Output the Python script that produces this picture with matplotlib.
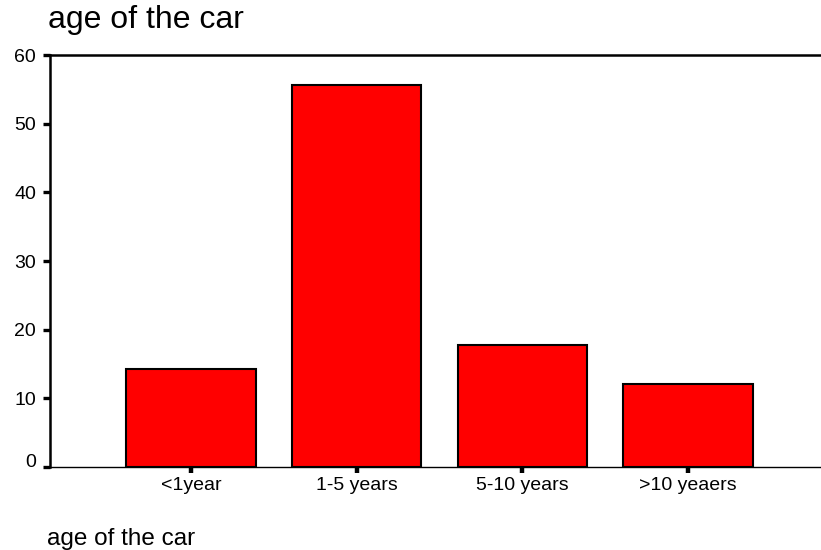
import matplotlib
matplotlib.use('Agg')
import matplotlib.pyplot as plt
import matplotlib.transforms as mtransforms

# percent of cars in each age group
categories = ['<1year', '1-5 years', '5-10 years', '>10 yeaers']
percent = [14.3, 55.6, 17.8, 12.1]
y_ticks = [0, 10, 20, 30, 40, 50, 60]

plt.rcParams['font.family'] = ['Liberation Sans', 'DejaVu Sans']

fig = plt.figure(figsize=(8.21, 5.5), dpi=100)
ax = fig.add_axes([0.0609, 0.1509, 0.9391, 0.7491])

x = range(len(categories))
ax.bar(x, percent, width=0.78, color='#ff0000', edgecolor='black', linewidth=1.5)

ax.set_xlim(-0.851, 3.802)
ax.set_ylim(0, 60)
ax.set_yticks(y_ticks)
ax.set_xticks(list(x))
ax.set_xticklabels(categories)

ax.spines['right'].set_visible(False)
ax.spines['left'].set_linewidth(1.8)
ax.spines['top'].set_linewidth(1.8)
ax.spines['bottom'].set_linewidth(1.0)

ax.tick_params(axis='y', direction='out', length=5, width=2.4, pad=5, labelsize=14)
ax.tick_params(axis='x', direction='out', length=4, width=3.2, pad=3, labelsize=14)

# the "0" label sits a bit above its tick, as in the original
zero_lbl = ax.get_yticklabels()[0]
zero_lbl.set_transform(zero_lbl.get_transform() +
                       mtransforms.ScaledTranslation(0, 5 / 72, fig.dpi_scale_trans))

fig.text(0.058, 0.949, 'age of the car', fontsize=23, va='baseline', ha='left')
fig.text(0.057, 0.01, 'age of the car', fontsize=17.5, va='baseline', ha='left')

fig.savefig('out.png', dpi=100)
